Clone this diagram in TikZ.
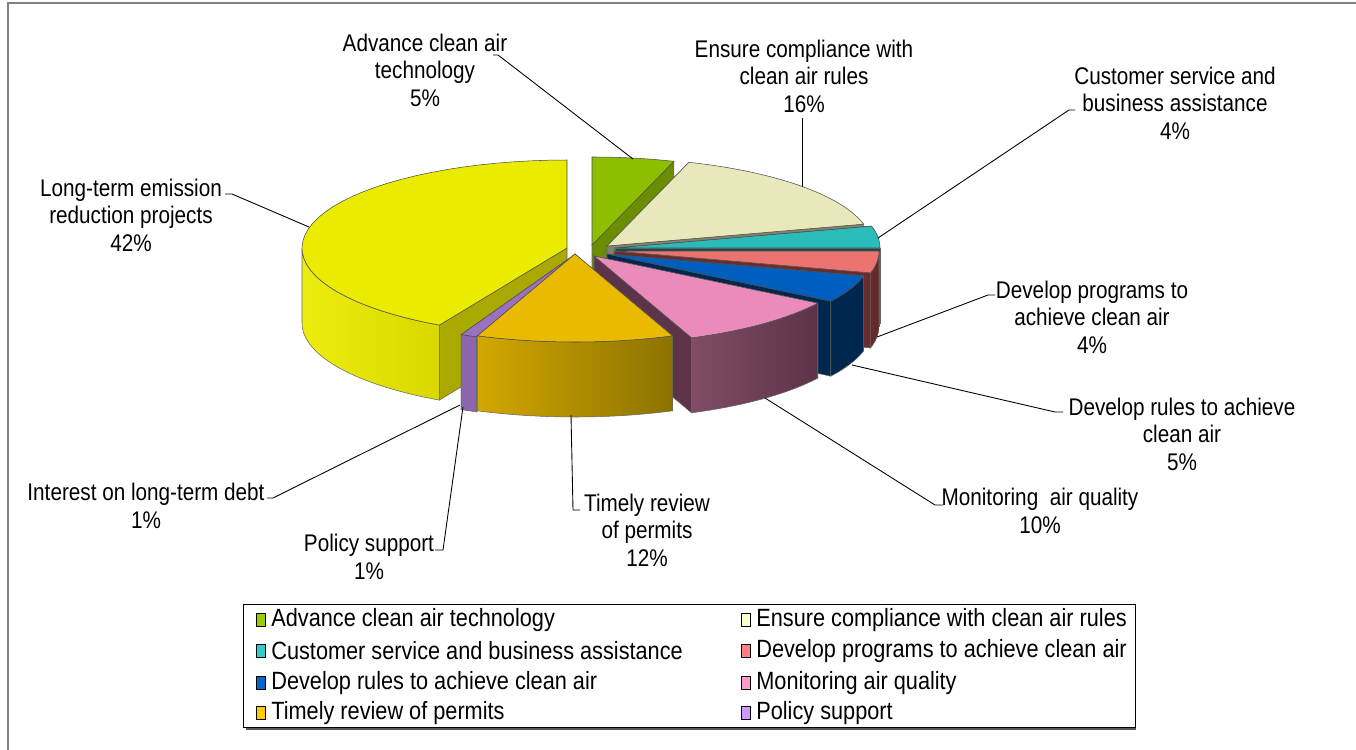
\documentclass[tikz,border=0pt]{standalone}
\usepackage{fontspec}
\setmainfont{Liberation Sans}
\newfontfamily\lblfont[FakeStretch=0.86]{Liberation Sans}
\newfontfamily\legfont[FakeStretch=0.87]{Liberation Sans}
\usetikzlibrary{positioning}

% slice colours
\definecolor{gTop}{HTML}{8DBE00}\definecolor{gRad}{HTML}{6A8E00}
\definecolor{cTop}{HTML}{E8E8BC}\definecolor{cRad}{HTML}{82826A}
\definecolor{tTop}{HTML}{2ABBBB}\definecolor{tRad}{HTML}{0F4C4C}
\definecolor{sTop}{HTML}{EC7470}\definecolor{sRad}{HTML}{6A2C2C}
\definecolor{bTop}{HTML}{005EBE}\definecolor{bRad}{HTML}{00284F}
\definecolor{yTop}{HTML}{EBEB00}\definecolor{yRad}{HTML}{A9A900}
\definecolor{pTop}{HTML}{EA8BBB}\definecolor{pRad}{HTML}{5C3349}
\definecolor{vTop}{HTML}{9A70C0}\definecolor{vRad}{HTML}{7A58A0}
\definecolor{oTop}{HTML}{EABA00}\definecolor{oRad}{HTML}{8C7200}
% legend colours
\definecolor{lgGreen}{HTML}{99CC00}\definecolor{lgCream}{HTML}{FFFFCC}
\definecolor{lgTeal}{HTML}{33CCCC}\definecolor{lgSalmon}{HTML}{FF8080}
\definecolor{lgBlue}{HTML}{0066CC}\definecolor{lgPink}{HTML}{FF99CC}
\definecolor{lgOrange}{HTML}{FFCC00}\definecolor{lgViolet}{HTML}{CC99FF}

% pie radii and height (pixels)
\def\prx{265}
\def\pry{88}
\def\pth{75}
% top face: cx, cy, from, to, colour
\newcommand{\pietop}[5]{\fill[#5,draw=gray!60!black,line width=0.3pt] (#1,#2) -- plot[domain=#3:#4,samples=40] ({#1+\prx*cos(\x)},{#2-\pry*sin(\x)}) -- cycle;}
% cut face: cx, cy, angle, colour
\newcommand{\pierad}[4]{\fill[#4,draw=black!60,line width=0.3pt] (#1,#2) -- ({#1+\prx*cos(#3)},{#2-\pry*sin(#3)}) -- ++(0,\pth) -- (#1,{#2+\pth}) -- cycle;}
% rim: cx, cy, from, to, left colour, right colour
\newcommand{\pieside}[6]{\path[left color=#5,right color=#6,draw=black!60,line width=0.3pt] plot[domain=#3:#4,samples=40] ({#1+\prx*cos(\x)},{#2-\pry*sin(\x)}) -- plot[domain=#4:#3,samples=40] ({#1+\prx*cos(\x)},{#2+\pth-\pry*sin(\x)}) -- cycle;}

\begin{document}
\begin{tikzpicture}[x=0.02cm,y=-0.02cm,
  lbl/.style={align=center,inner sep=0pt,font=\lblfont\fontsize{13.7}{15.6}\selectfont},
  legtxt/.style={inner sep=0pt,anchor=west,font=\legfont\fontsize{14.2}{16}\selectfont},
  legmark/.style={draw=black,line width=0.6pt,minimum width=0.18cm,minimum height=0.26cm,inner sep=0pt},
  leader/.style={draw=black,line width=0.5pt}]
\useasboundingbox (0,0) rectangle (1356,750);
\draw[gray,line width=1.2pt] (8,750) -- (8,3) -- (1356,3);

% pie, back to front
\pierad{592}{245}{72}{gRad}
\pietop{592}{245}{72}{90}{gTop}
\pierad{607}{246}{72}{cRad}
\pierad{607}{246}{14.4}{cRad}
\pietop{607}{246}{14.4}{72}{cTop}
\pierad{615}{248}{14.4}{tRad}
\pierad{615}{248}{0}{tRad}
\pietop{615}{248}{0}{14.4}{tTop}
\pierad{614}{251}{360}{sRad}
\pierad{614}{251}{345.6}{sRad}
\pieside{614}{251}{345.6}{360}{sRad}{sRad!90!black}
\pietop{614}{251}{345.6}{360}{sTop}
\pierad{607}{254}{345.6}{bRad}
\pierad{607}{254}{327.6}{bRad}
\pieside{607}{254}{327.6}{345.6}{bRad}{bRad}
\pietop{607}{254}{327.6}{345.6}{bTop}
\pierad{567}{248}{241.2}{yRad}
\pieside{567}{248}{180}{241.2}{yTop!95!white}{yTop!92!black}
\pietop{567}{248}{90}{241.2}{yTop}
\pierad{594}{256}{327.6}{pRad}
\pierad{594}{256}{291.6}{pRad}
\pieside{594}{256}{291.6}{327.6}{pTop!55!black}{pRad}
\pietop{594}{256}{291.6}{327.6}{pTop}
\pierad{574}{255}{244.8}{vRad}
\pierad{574}{255}{248.4}{vRad}
\pieside{574}{255}{244.8}{248.4}{vTop!90!black}{vTop!90!black}
\pietop{574}{255}{244.8}{248.4}{vTop}
\pierad{575}{254}{291.6}{oRad}
\pierad{575}{254}{248.4}{oRad}
\pieside{575}{254}{248.4}{291.6}{oTop!90!black}{oRad}
\pietop{575}{254}{248.4}{291.6}{oTop}

% labels
\node[lbl] (advLbl) at (425,70) {Advance clean air\\technology\\5\%};
\node[lbl] (ensLbl) at (804,76) {Ensure compliance with\\clean air rules\\16\%};
\node[lbl] (cusLbl) at (1175,103) {Customer service and\\business assistance\\4\%};
\node[lbl] (ltmLbl) at (131,215) {Long-term emission\\reduction projects\\42\%};
\node[lbl] (dprLbl) at (1092,317) {Develop programs to\\achieve clean air\\4\%};
\node[lbl] (druLbl) at (1182,434) {Develop rules to achieve\\clean air\\5\%};
\node[lbl] (monLbl) at (1040,511) {Monitoring\ \ air quality\\10\%};
\node[lbl] (timLbl) at (647,530) {Timely review\\of permits\\12\%};
\node[lbl] (intLbl) at (146,506) {Interest on long-term debt\\1\%};
\node[lbl] (polLbl) at (369,557) {Policy support\\1\%};

% leader lines
\coordinate (advTick) at (493,55);  \coordinate (advEnd) at (633,159);
\coordinate (ensTick) at (802,118); \coordinate (ensEnd) at (802,187);
\coordinate (cusTick) at (1075,110);\coordinate (cusEnd) at (878,238);
\coordinate (ltmTick) at (225,194); \coordinate (ltmEnd) at (309,227);
\coordinate (dprTick) at (995,295); \coordinate (dprEnd) at (877,337);
\coordinate (druTick) at (1063,412);\coordinate (druEnd) at (852,365);
\coordinate (monTick) at (943,505); \coordinate (monEnd) at (765,398);
\coordinate (timTick) at (580,510); \coordinate (timEnd) at (571,415);
\coordinate (intTick) at (267,498); \coordinate (intEnd) at (460,405);
\coordinate (polTick) at (435,550); \coordinate (polEnd) at (463,407);
\draw[leader] (advTick) -- ++(5,0) -- (advEnd);
\draw[leader] (ensTick) -- (ensEnd);
\draw[leader] (cusTick) -- ++(-6,0) -- (cusEnd);
\draw[leader] (ltmTick) -- ++(7,0) -- (ltmEnd);
\draw[leader] (dprTick) -- ++(-7,0) -- (dprEnd);
\draw[leader] (druTick) -- ++(-8,0) -- (druEnd);
\draw[leader] (monTick) -- ++(-8,0) -- (monEnd);
\draw[leader] (timTick) -- ++(-7,0) -- (timEnd);
\draw[leader] (intTick) -- ++(6,0) -- (intEnd);
\draw[leader] (polTick) -- ++(8,0) -- (polEnd);

% legend
\draw[gray!70!black,line width=1.5pt] (246,728.5) -- (1136,728.5);
\draw[black,line width=0.5pt,fill=white] (243,604) rectangle (1135,727);
\node[legmark,fill=lgGreen]  (mkAdv) at (261,620) {};
\node[legtxt,right=0.1cm of mkAdv] (lgAdv) {Advance clean air technology};
\node[legmark,fill=lgCream]  (mkEns) at (746,620) {};
\node[legtxt,right=0.1cm of mkEns] (lgEns) {Ensure compliance with clean air rules};
\node[legmark,fill=lgTeal]   (mkCus) at (261,651) {};
\node[legtxt,right=0.1cm of mkCus] (lgCus) {Customer service and business assistance};
\node[legmark,fill=lgSalmon] (mkDpr) at (746,651) {};
\node[legtxt,right=0.1cm of mkDpr] (lgDpr) {Develop programs to achieve clean air};
\node[legmark,fill=lgBlue]   (mkDru) at (261,683) {};
\node[legtxt,right=0.1cm of mkDru] (lgDru) {Develop rules to achieve clean air};
\node[legmark,fill=lgPink]   (mkMon) at (746,683) {};
\node[legtxt,right=0.1cm of mkMon] (lgMon) {Monitoring air quality};
\node[legmark,fill=lgOrange] (mkTim) at (261,713) {};
\node[legtxt,right=0.1cm of mkTim] (lgTim) {Timely review of permits};
\node[legmark,fill=lgViolet] (mkPol) at (746,713) {};
\node[legtxt,right=0.1cm of mkPol] (lgPol) {Policy support};
\end{tikzpicture}
\end{document}
